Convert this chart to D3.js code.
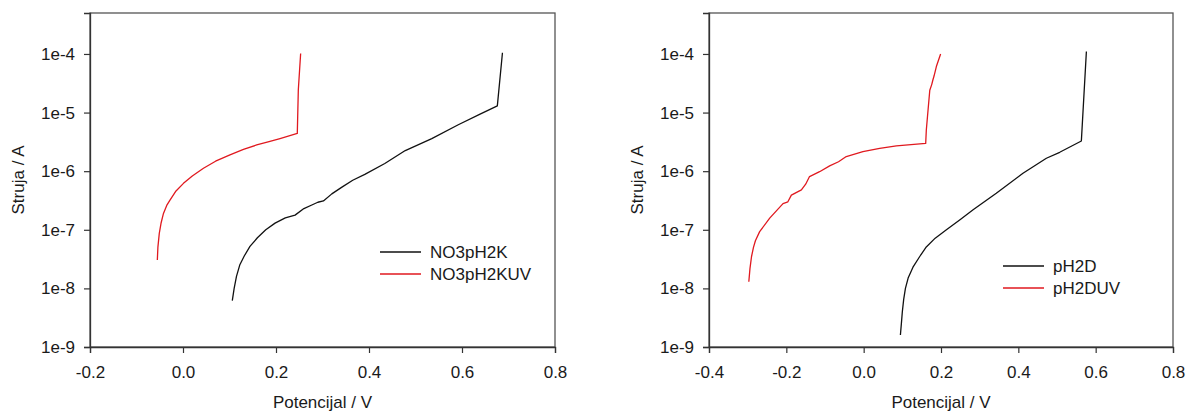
<!DOCTYPE html>
<html><head><meta charset="utf-8">
<script src="https://cdn.jsdelivr.net/npm/d3@7"></script>
<style>
html,body{margin:0;padding:0;background:#fff;}
svg text{font-family:"Liberation Sans",Arial,sans-serif;fill:#1a1a1a;}
</style></head>
<body><svg id="c" width="1190" height="412"></svg>
<script>
// ---- data ----
const leftXTicks = [-0.2, 0.0, 0.2, 0.4, 0.6, 0.8];
const rightXTicks = [-0.4, -0.2, 0.0, 0.2, 0.4, 0.6, 0.8];
const yTicks = [1e-9, 1e-8, 1e-7, 1e-6, 1e-5, 1e-4];
const yTickLabels = ["1e-9", "1e-8", "1e-7", "1e-6", "1e-5", "1e-4"];

const leftNames = ["NO3pH2K", "NO3pH2KUV"];
const rightNames = ["pH2D", "pH2DUV"];

const no3pH2K_E = [0.106, 0.110, 0.115, 0.122, 0.132, 0.144, 0.160, 0.178, 0.198, 0.220, 0.241, 0.260, 0.277, 0.290, 0.302, 0.320, 0.341, 0.365, 0.391, 0.434, 0.478, 0.535, 0.592, 0.640, 0.676, 0.687];
const no3pH2K_I = [6.2e-9, 1.0e-8, 1.6e-8, 2.5e-8, 3.6e-8, 5.2e-8, 7.3e-8, 1.0e-7, 1.3e-7, 1.6e-7, 1.78e-7, 2.3e-7, 2.65e-7, 2.95e-7, 3.1e-7, 4.1e-7, 5.3e-7, 7.0e-7, 8.8e-7, 1.35e-6, 2.25e-6, 3.6e-6, 6.2e-6, 9.5e-6, 1.3e-5, 1.05e-4];

const no3pH2KUV_E = [-0.0552, -0.054, -0.051, -0.047, -0.042, -0.035, -0.028, -0.015, 0.001, 0.020, 0.044, 0.070, 0.101, 0.130, 0.1585, 0.185, 0.2086, 0.2458, 0.248, 0.253];
const no3pH2KUV_I = [3.05e-8, 5.0e-8, 8.7e-8, 1.32e-7, 1.9e-7, 2.6e-7, 3.2e-7, 4.6e-7, 6.2e-7, 8.3e-7, 1.12e-6, 1.48e-6, 1.9e-6, 2.35e-6, 2.8e-6, 3.2e-6, 3.6e-6, 4.4e-6, 2.45e-5, 1.02e-4];

const pH2D_E = [0.095, 0.0975, 0.1000, 0.1035, 0.108, 0.115, 0.1275, 0.145, 0.162, 0.185, 0.214, 0.250, 0.283, 0.343, 0.412, 0.4725, 0.507, 0.563, 0.576];
const pH2D_I = [1.6e-9, 2.5e-9, 4.0e-9, 6.5e-9, 1.0e-8, 1.5e-8, 2.3e-8, 3.5e-8, 5.1e-8, 7.2e-8, 1.0e-7, 1.5e-7, 2.2e-7, 4.2e-7, 9.2e-7, 1.66e-6, 2.1e-6, 3.27e-6, 1.1e-4];

const pH2DUV_E = [-0.297, -0.294, -0.290, -0.285, -0.280, -0.269, -0.243, -0.2086, -0.196, -0.187, -0.161, -0.150, -0.140, -0.114, -0.088, -0.065, -0.045, -0.002, 0.0414, 0.0846, 0.1604, 0.162, 0.165, 0.171, 0.176, 0.179, 0.182, 0.188, 0.199];
const pH2DUV_I = [1.3e-8, 2.2e-8, 3.5e-8, 5.0e-8, 6.5e-8, 9.3e-8, 1.58e-7, 2.8e-7, 3.0e-7, 3.9e-7, 4.8e-7, 6.0e-7, 8.1e-7, 9.8e-7, 1.23e-6, 1.45e-6, 1.78e-6, 2.15e-6, 2.45e-6, 2.7e-6, 2.97e-6, 5.0e-6, 8.5e-6, 2.4e-5, 3.0e-5, 3.6e-5, 4.2e-5, 6.1e-5, 1.0e-4];

// ---- drawing ----
const svg = d3.select("#c");
const colors = ["#111111", "#e0191f"];
const fmtX = d => d3.format(".1f")(d).replace("\u2212", "-");

function panel(opt) {
  const x = d3.scaleLinear().domain(opt.xDomain).range([opt.left, opt.right]);
  const y = d3.scaleLog().domain([1e-9, 5e-4]).range([347, 13]);
  const g = svg.append("g");

  // frame
  g.append("rect").attr("x", opt.left).attr("y", 13)
    .attr("width", opt.right - opt.left).attr("height", 334)
    .attr("fill", "none").attr("stroke", "#555").attr("stroke-width", 1.3);

  const xa = g.append("g").attr("transform", "translate(0,347)")
    .call(d3.axisBottom(x).tickValues(opt.xTicks).tickFormat(fmtX).tickSize(6).tickPadding(13));
  const ya = g.append("g").attr("transform", `translate(${opt.left},0)`)
    .call(d3.axisLeft(y).tickValues(yTicks).tickFormat((d, i) => yTickLabels[i]).tickSize(6).tickPadding(9));
  [xa, ya].forEach(a => {
    a.select(".domain").attr("stroke", "#333").attr("stroke-width", 1.3);
    a.selectAll(".tick line").attr("stroke", "#333").attr("stroke-width", 1.2);
    a.selectAll(".tick text").attr("font-size", 17).attr("fill", "#1a1a1a")
      .style("font-family", '"Liberation Sans", Arial, sans-serif');
  });

  // titles
  g.append("text").attr("x", (opt.left + opt.right) / 2).attr("y", 408)
    .attr("text-anchor", "middle").attr("font-size", 17).text("Potencijal / V");
  g.append("text").attr("transform", `translate(${opt.left - 66},180) rotate(-90)`)
    .attr("text-anchor", "middle").attr("font-size", 17).text("Struja / A");

  const lineLin = d3.line().x(d => x(d[0])).y(d => y(d[1]));
  opt.series.forEach((s, i) => {
    g.append("path").datum(d3.zip(s.E, s.I))
      .attr("fill", "none").attr("stroke", colors[i]).attr("stroke-width", 1.3)
      .attr("stroke-linejoin", "round").attr("d", lineLin);
  });

  // legend
  opt.names.forEach((n, i) => {
    const yy = opt.legY + i * 22;
    g.append("line").attr("x1", opt.legX).attr("x2", opt.legX + 41)
      .attr("y1", yy).attr("y2", yy).attr("stroke", colors[i]).attr("stroke-width", 1.3);
    g.append("text").attr("x", opt.legX + 50).attr("y", yy + 6)
      .attr("font-size", 17).text(n);
  });
}

panel({
  left: 90, right: 555, xDomain: [-0.2, 0.8], xTicks: leftXTicks,
  series: [{E: no3pH2K_E, I: no3pH2K_I}, {E: no3pH2KUV_E, I: no3pH2KUV_I}],
  names: leftNames, legX: 380, legY: 252
});
panel({
  left: 709, right: 1173, xDomain: [-0.4, 0.8], xTicks: rightXTicks,
  series: [{E: pH2D_E, I: pH2D_I}, {E: pH2DUV_E, I: pH2DUV_I}],
  names: rightNames, legX: 1003, legY: 266
});
</script></body></html>
